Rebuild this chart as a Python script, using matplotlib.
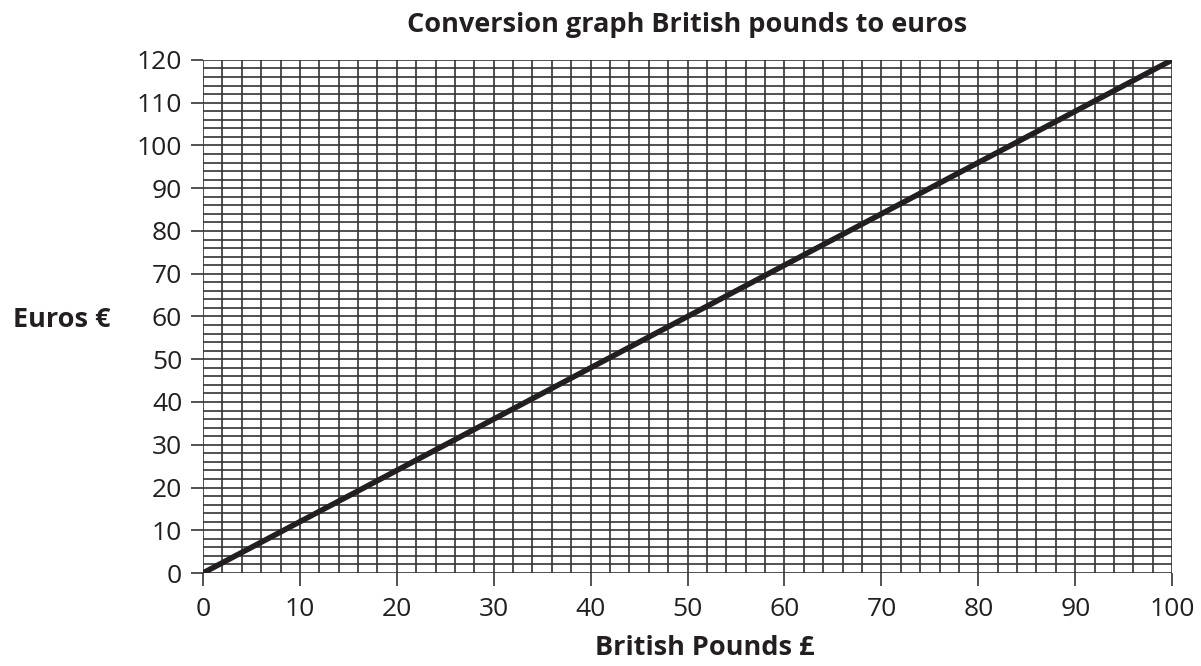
import matplotlib
matplotlib.use('Agg')
import matplotlib.pyplot as plt
import numpy as np

# conversion data: pounds -> euros
pounds = [0, 100]
euros = [0, 120]

x_ticks = list(range(0, 101, 10))
y_ticks = list(range(0, 121, 10))

plt.rcParams['font.family'] = ['Open Sans', 'DejaVu Sans']

fig = plt.figure(figsize=(12.01, 6.66), dpi=100)
ax = fig.add_axes([0.169, 0.1396, 0.807, 0.7704])

# grid every 2 units
for gx in np.arange(0, 101, 2):
    ax.axvline(gx, color='#333333', lw=1.2, zorder=1)
for gy in np.arange(0, 121, 2):
    ax.axhline(gy, color='#333333', lw=1.2, zorder=1)

ax.plot(pounds, euros, color='#231f20', lw=4.0, solid_capstyle='butt', zorder=3)

ax.set_xlim(0, 100)
ax.set_ylim(0, 120)
ax.set_xticks(x_ticks)
ax.set_yticks(y_ticks)
ax.tick_params(axis='both', direction='out', length=9, width=1.2, color='#333333',
               labelsize=19, labelcolor='#231f20', pad=6)
ax.tick_params(axis='x', pad=8)
for s in ax.spines.values():
    s.set_visible(False)

# titles placed in figure coords
fig.text(0.572, 0.952, 'Conversion graph British pounds to euros', fontsize=19.5,
         fontweight='bold', color='#231f20', ha='center', va='baseline')
fig.text(0.587, 0.016, 'British Pounds £', fontsize=19.5, fontweight='bold',
         color='#231f20', ha='center', va='baseline')
fig.text(0.0916, 0.509, 'Euros €', fontsize=19.5, fontweight='bold', color='#231f20',
         ha='right', va='baseline')

fig.savefig('out.png', dpi=100)
